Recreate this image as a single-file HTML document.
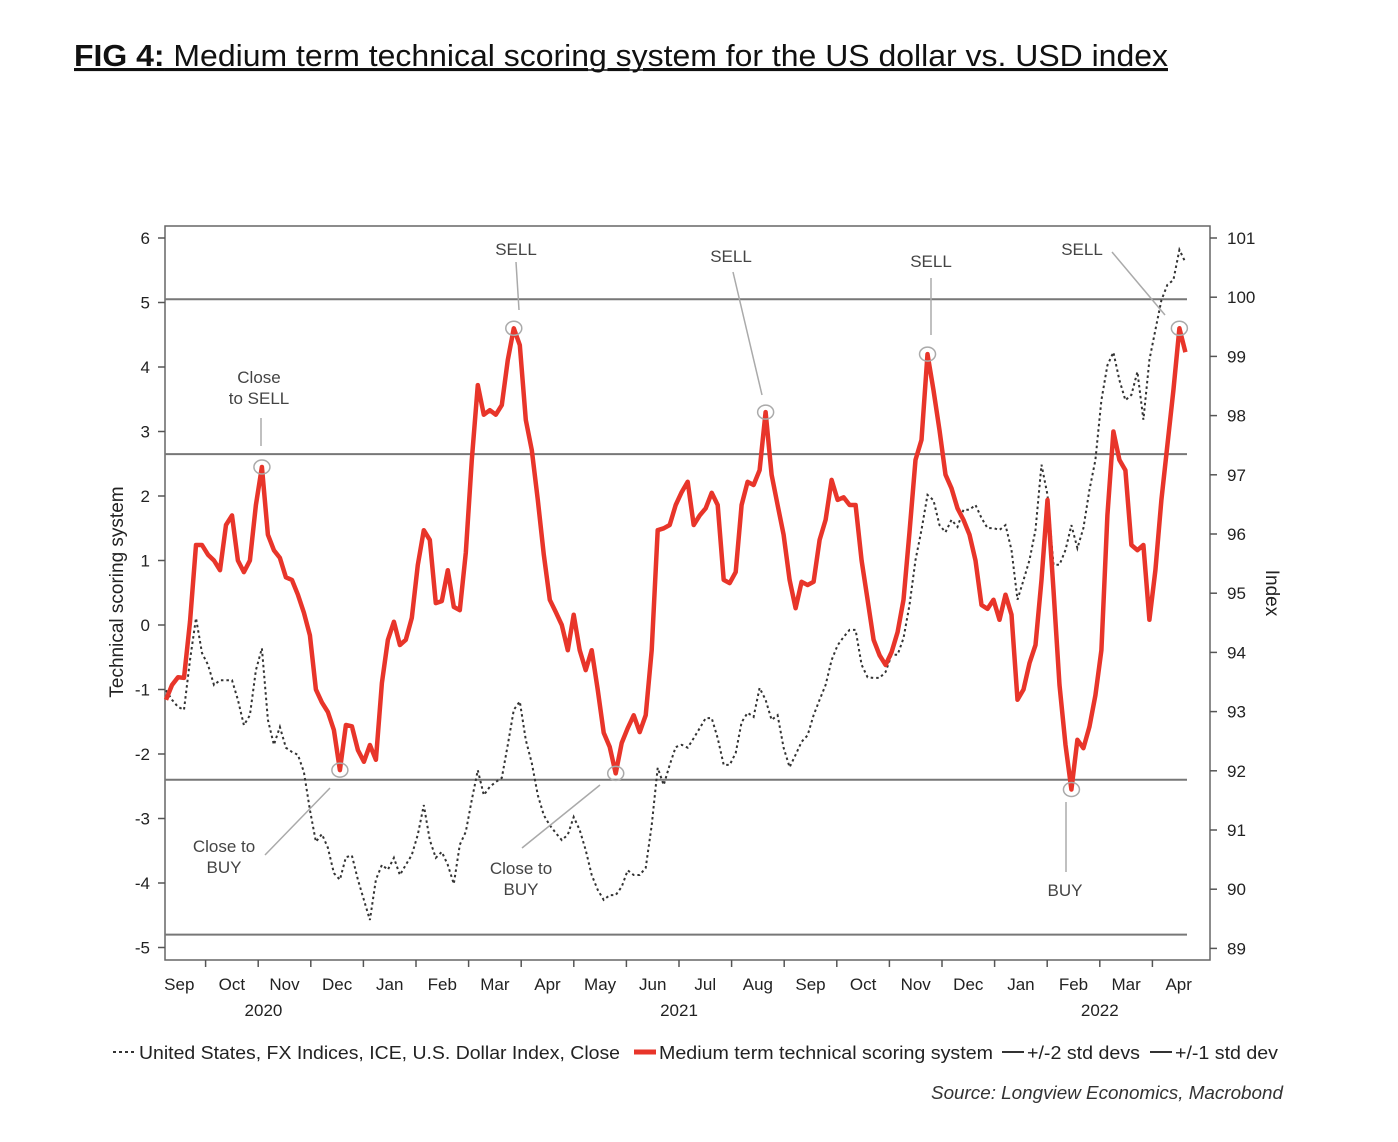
<!DOCTYPE html>
<html><head><meta charset="utf-8"><style>
html,body{margin:0;padding:0;background:#fff;}
svg{display:block;font-family:"Liberation Sans",sans-serif;}
</style></head><body>
<svg id="chart" width="1398" height="1142" viewBox="0 0 1398 1142" xmlns="http://www.w3.org/2000/svg">
<text x="74" y="66" font-size="31" fill="#111" text-decoration="underline" textLength="1094" lengthAdjust="spacingAndGlyphs"><tspan font-weight="bold">FIG 4:</tspan> Medium term technical scoring system for the US dollar vs. USD index</text>
<line x1="74" y1="70" x2="1168" y2="70" stroke="#111" stroke-width="1.5"/>
<rect x="165" y="226" width="1045" height="734" fill="none" stroke="#666" stroke-width="1.5"/>
<g id="grid"></g>
<g id="axes" font-size="17" fill="#222"></g>
<g id="series"></g>
<g id="annot" font-size="17" fill="#444"></g>
<text transform="translate(123,592) rotate(-90)" text-anchor="middle" font-size="19" fill="#222">Technical scoring system</text>
<text transform="translate(1266,593) rotate(90)" text-anchor="middle" font-size="19" fill="#222">Index</text>
<g font-size="18" fill="#222">
<line x1="113" y1="1052" x2="136" y2="1052" stroke="#333" stroke-width="2" stroke-dasharray="3,3"/>
<text x="139" y="1059" textLength="481" lengthAdjust="spacingAndGlyphs">United States, FX Indices, ICE, U.S. Dollar Index, Close</text>
<line x1="634" y1="1052" x2="656" y2="1052" stroke="#e8352a" stroke-width="5"/>
<text x="659" y="1059" textLength="334" lengthAdjust="spacingAndGlyphs">Medium term technical scoring system</text>
<line x1="1002" y1="1052" x2="1024" y2="1052" stroke="#333" stroke-width="2"/>
<text x="1027" y="1059" textLength="113" lengthAdjust="spacingAndGlyphs">+/-2 std devs</text>
<line x1="1150" y1="1052" x2="1172" y2="1052" stroke="#333" stroke-width="2"/>
<text x="1175" y="1059" textLength="103" lengthAdjust="spacingAndGlyphs">+/-1 std dev</text>
</g>
<text x="931" y="1099" font-size="18" font-style="italic" fill="#333" textLength="352" lengthAdjust="spacingAndGlyphs">Source: Longview Economics, Macrobond</text>
</svg>
<script>
const months = ["Sep","Oct","Nov","Dec","Jan","Feb","Mar","Apr","May","Jun","Jul","Aug","Sep","Oct","Nov","Dec","Jan","Feb","Mar","Apr"];
const years = [["2020",2.1],["2021",10.0],["2022",18.0]];
const leftTicks = [6,5,4,3,2,1,0,-1,-2,-3,-4,-5];
const rightTicks = [101,100,99,98,97,96,95,94,93,92,91,90,89];
const bands = [5.05,2.65,-2.4,-4.8];
const startMonth = 0.247;
const stepMonth = 0.114;
const score = [-1.16,-0.93,-0.81,-0.82,0.05,1.24,1.24,1.09,1.0,0.85,1.55,1.7,1.0,0.82,1.0,1.86,2.45,1.4,1.16,1.04,0.74,0.7,0.47,0.19,-0.16,-1.0,-1.2,-1.35,-1.63,-2.25,-1.55,-1.57,-1.94,-2.12,-1.86,-2.09,-0.9,-0.23,0.05,-0.31,-0.23,0.11,0.93,1.47,1.32,0.34,0.37,0.85,0.28,0.23,1.12,2.56,3.72,3.26,3.33,3.26,3.41,4.11,4.6,4.34,3.18,2.71,1.94,1.09,0.39,0.2,0.0,-0.39,0.16,-0.39,-0.7,-0.39,-1.0,-1.67,-1.89,-2.3,-1.83,-1.6,-1.4,-1.66,-1.4,-0.39,1.47,1.5,1.55,1.86,2.06,2.22,1.55,1.7,1.81,2.05,1.86,0.7,0.65,0.82,1.86,2.22,2.17,2.4,3.3,2.33,1.86,1.4,0.7,0.26,0.67,0.62,0.67,1.32,1.63,2.25,1.94,1.98,1.86,1.86,1.0,0.39,-0.23,-0.47,-0.62,-0.42,-0.11,0.39,1.44,2.56,2.87,4.2,3.64,3.02,2.33,2.12,1.81,1.63,1.4,1.0,0.31,0.25,0.39,0.08,0.47,0.16,-1.16,-1.0,-0.59,-0.31,0.7,1.94,0.54,-0.93,-1.86,-2.55,-1.78,-1.91,-1.58,-1.09,-0.39,1.7,3.0,2.56,2.4,1.24,1.16,1.24,0.08,0.85,1.94,2.79,3.64,4.6,4.23];
const usdIndex = [93.36,93.2,93.08,93.03,93.87,94.58,93.99,93.79,93.45,93.53,93.53,93.53,93.2,92.77,92.94,93.7,94.07,92.86,92.44,92.74,92.39,92.32,92.27,91.98,91.34,90.8,90.93,90.7,90.27,90.16,90.54,90.57,90.16,89.82,89.48,90.16,90.41,90.33,90.53,90.24,90.41,90.58,90.92,91.42,90.83,90.53,90.63,90.41,90.09,90.75,90.97,91.51,92.01,91.59,91.73,91.81,91.88,92.44,93.03,93.17,92.52,92.13,91.59,91.25,91.08,90.95,90.83,90.92,91.22,91.0,90.66,90.24,89.99,89.82,89.9,89.9,90.04,90.32,90.24,90.24,90.36,91.08,92.05,91.76,92.1,92.4,92.44,92.39,92.55,92.72,92.89,92.89,92.55,92.1,92.1,92.3,92.82,92.98,92.91,93.4,93.2,92.86,92.94,92.39,92.06,92.27,92.49,92.6,92.94,93.2,93.45,93.87,94.12,94.26,94.38,94.38,93.79,93.58,93.57,93.57,93.67,93.96,93.96,94.24,94.8,95.56,96.07,96.66,96.57,96.15,96.03,96.24,96.12,96.41,96.41,96.49,96.27,96.1,96.1,96.07,96.15,95.73,94.89,95.22,95.56,96.07,97.17,96.66,95.48,95.48,95.73,96.15,95.76,96.1,96.74,97.25,98.26,98.85,99.07,98.6,98.26,98.35,98.74,97.93,98.94,99.45,99.95,100.21,100.29,100.8,100.59];
const annLabels = [["Close","to SELL"],["SELL"],["SELL"],["SELL"],["SELL"],["Close to","BUY"],["Close to","BUY"],["BUY"]];
const annIdx = [16,58,100,127,169,29,75,151];

const NS="http://www.w3.org/2000/svg";
const xS = m => 153 + 52.6*m;
const yL = v => 625 - 64.5*v;
const yR = v => 238 + 59.2*(101 - v);
const tAt = k => startMonth + k*stepMonth;
function mk(tag, attrs, parent){const e=document.createElementNS(NS,tag);for(const k in attrs)e.setAttribute(k,attrs[k]);parent.appendChild(e);return e;}
const grid=document.getElementById('grid'), axes=document.getElementById('axes'), series=document.getElementById('series'), annot=document.getElementById('annot');

bands.forEach(b=>{const l=mk('line',{x1:165,x2:1187,y1:yL(b),y2:yL(b),stroke:'#777','stroke-width':2},grid);

});

leftTicks.forEach(v=>{mk('line',{x1:158,x2:165,y1:yL(v),y2:yL(v),stroke:'#555','stroke-width':1.5},axes);
const t=mk('text',{x:150,y:yL(v)+6,'text-anchor':'end'},axes);t.textContent=v;

});
rightTicks.forEach(v=>{mk('line',{x1:1210,x2:1217,y1:yR(v),y2:yR(v),stroke:'#555','stroke-width':1.5},axes);
const t=mk('text',{x:1227,y:yR(v)+6},axes);t.textContent=v;

});
months.forEach((m,i)=>{if(i>0)mk('line',{x1:xS(i),x2:xS(i),y1:960,y2:967,stroke:'#555','stroke-width':1.5},axes);
const t=mk('text',{x:xS(i+0.5),y:990,'text-anchor':'middle'},axes);t.textContent=m;

});
years.forEach(y=>{const t=mk('text',{x:xS(y[1]),y:1016,'text-anchor':'middle'},axes);t.textContent=y[0];

});

const pU=mk('path',{d:usdIndex.map((v,k)=>(k?'L':'M')+xS(tAt(k)).toFixed(1)+','+yR(v).toFixed(1)).join(''),fill:'none',stroke:'#333','stroke-width':2,'stroke-dasharray':'2.5,3'},series);


const pS=mk('path',{d:score.map((v,k)=>(k?'L':'M')+xS(tAt(k)).toFixed(1)+','+yL(v).toFixed(1)).join(''),fill:'none',stroke:'#e8352a','stroke-width':4.5,'stroke-linejoin':'round'},series);



const annLayout=[[259,377,261,418,261,446],[516,249,516,262,519,310],[731,256,733,272,762,395],[931,261,931,278,931,335],[1082,249,1112,252,1165,315],[224,846,265,855,330,788],[521,868,522,848,600,785],[1065,890,1066,872,1066,802]];
annIdx.forEach((k,i)=>{const cx=xS(tAt(k)), cy=yL(score[k]);
const c=mk('ellipse',{cx:cx,cy:cy,rx:8,ry:7,fill:'none',stroke:'#aaa','stroke-width':1.5},annot);


const L=annLayout[i];
const ln=mk('line',{x1:L[2],y1:L[3],x2:L[4],y2:L[5],stroke:'#aaa','stroke-width':1.5},annot);


annLabels[i].forEach((s,j)=>{const t=mk('text',{x:L[0],y:L[1]+6+j*21,'text-anchor':'middle'},annot);t.textContent=s;

});});
</script>
</body></html>
